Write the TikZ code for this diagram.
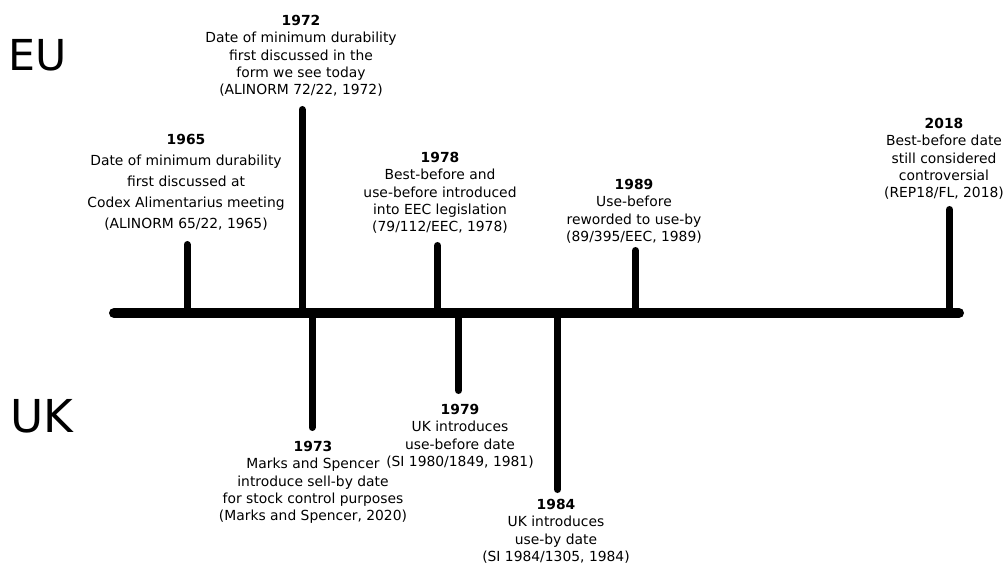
\documentclass[tikz,border=0pt]{standalone}
\usepackage{fontspec}
\setmainfont{DejaVu Sans}
\begin{document}
\begin{tikzpicture}[x=0.75pt,y=-0.75pt,
  evtext/.style={anchor=north,inner sep=0pt,align=center,font=\fontsize{10.4}{13}\selectfont},
  evtextwide/.style={anchor=north,inner sep=0pt,align=center,font=\fontsize{10.4}{15.75}\selectfont},
  region/.style={inner sep=0pt,anchor=north west},
  axis/.style={line width=7.5pt,line cap=round},
  tick/.style={line width=5.25pt,line cap=round}]
\useasboundingbox (0,0) rectangle (1007,563);
% axis
\coordinate (a0) at (114,313);
\coordinate (a1) at (959,313);
\draw[axis] (a0) -- (a1);
% region labels
\node[region,font=\fontsize{32}{32}\selectfont] (eu) at (8,39) {EU};
\node[region,font=\fontsize{34}{34}\selectfont] (uk) at (10,399) {UK};
% ticks up
\coordinate (b65) at (187,313);   \coordinate (e65) at (187,244.5);
\coordinate (b72) at (302,313);   \coordinate (e72) at (302,109.5);
\coordinate (b78) at (437.5,313); \coordinate (e78) at (437.5,245.5);
\coordinate (b89) at (635.5,313); \coordinate (e89) at (635.5,250.5);
\coordinate (b18) at (949.5,313); \coordinate (e18) at (949.5,209.5);
% ticks down
\coordinate (b73) at (312,313);   \coordinate (e73) at (312,427.5);
\coordinate (b79) at (458.5,313); \coordinate (e79) at (458.5,390.5);
\coordinate (b84) at (557.5,313); \coordinate (e84) at (557.5,489.5);
\foreach \p in {65,72,78,89,18,73,79,84} {\draw[tick] (b\p) -- (e\p);}
% texts
\node[evtextwide] (t65) at (186,134) {\textbf{1965}\\Date of minimum durability\\first discussed at\\Codex Alimentarius meeting\\(ALINORM 65/22, 1965)};
\node[evtext] (t72) at (301,15) {\textbf{1972}\\Date of minimum durability\\first discussed in the\\form we see today\\(ALINORM 72/22, 1972)};
\node[evtext] (t78) at (440,152) {\textbf{1978}\\Best-before and\\use-before introduced\\into EEC legislation\\(79/112/EEC, 1978)};
\node[evtext] (t89) at (634,179) {\textbf{1989}\\Use-before\\reworded to use-by\\(89/395/EEC, 1989)};
\node[evtext] (t18) at (944,118) {\textbf{2018}\\Best-before date\\still considered\\controversial\\(REP18/FL, 2018)};
\node[evtext] (t73) at (313,441) {\textbf{1973}\\Marks and Spencer\\introduce sell-by date\\for stock control purposes\\(Marks and Spencer, 2020)};
\node[evtext] (t79) at (460,404) {\textbf{1979}\\UK introduces\\use-before date\\(SI 1980/1849, 1981)};
\node[evtext] (t84) at (556,499) {\textbf{1984}\\UK introduces\\use-by date\\(SI 1984/1305, 1984)};
\end{tikzpicture}
\end{document}
